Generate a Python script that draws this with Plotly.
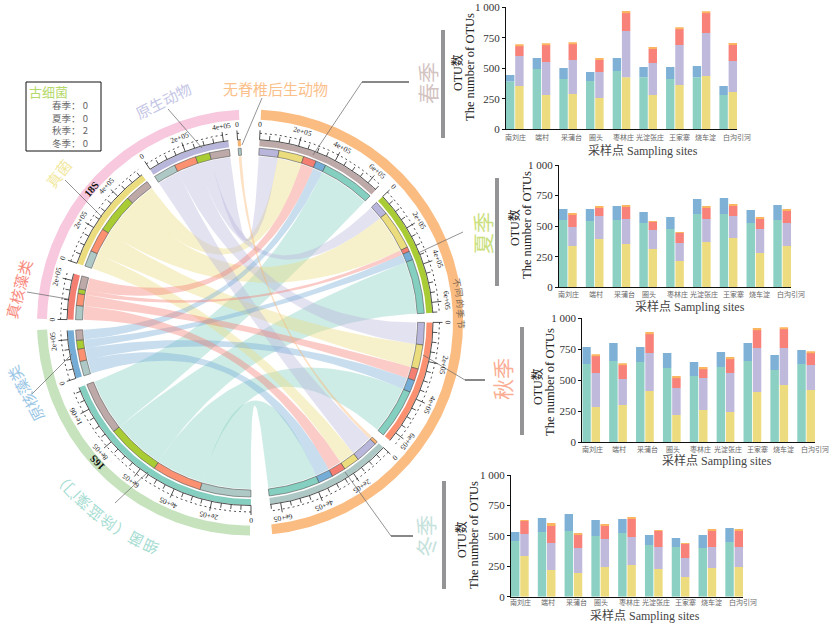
import numpy as np
import plotly.graph_objects as go

# ---------- data ----------
SEASONS = ["春季", "夏季", "秋季", "冬季"]
TAXA = ["细菌", "原核藻类", "真核藻类", "真菌", "原生动物", "无脊椎后生动物"]
SPRING_READS = [287000, 55000, 70000, 135000, 106000, 0]
SUMMER_READS = [292000, 47000, 25000, 212000, 77000, 0]
AUTUMN_READS = [268000, 66000, 64000, 130000, 120000, 0]
WINTER_READS = [274000, 79000, 76000, 87000, 122000, 16000]

SITES = ["南刘庄", "端村", "采蒲台", "圈头", "枣林庄", "光淀张庄", "王家寨", "烧车淀", "白沟引河"]
# cumulative stack tops
S1_BACT = [391, 495, 413, 396, 478, 426, 413, 426, 281]
S1_CYAN = [445, 585, 503, 470, 585, 511, 511, 519, 355]
S1_FUNG = [355, 281, 290, 257, 426, 281, 363, 437, 306]
S1_PROT = [601, 552, 568, 470, 806, 544, 691, 790, 560]
S1_EUKA = [683, 691, 699, 568, 956, 658, 822, 956, 691]
S1_INVE = [691, 699, 708, 585, 970, 675, 831, 962, 708]

S2_BACT = [550, 542, 550, 526, 477, 600, 600, 526, 550]
S2_CYAN = [640, 640, 665, 616, 575, 722, 730, 632, 673]
S2_FUNG = [338, 395, 354, 313, 215, 371, 403, 281, 338]
S2_PROT = [493, 583, 559, 469, 362, 559, 583, 477, 526]
S2_EUKA = [599, 649, 657, 534, 444, 649, 665, 559, 632]
S2_INVE = [608, 657, 665, 542, 452, 657, 681, 567, 640]

S3_BACT = [631, 655, 647, 598, 534, 606, 655, 582, 631]
S3_CYAN = [768, 800, 768, 720, 647, 728, 800, 704, 744]
S3_FUNG = [283, 299, 412, 218, 259, 243, 404, 461, 420]
S3_PROT = [558, 509, 720, 437, 518, 558, 760, 760, 623]
S3_EUKA = [698, 623, 873, 518, 590, 671, 906, 914, 720]
S3_INVE = [706, 631, 889, 534, 606, 687, 922, 922, 728]

S4_BACT = [458, 532, 540, 499, 523, 425, 408, 400, 449]
S4_CYAN = [532, 647, 679, 630, 638, 507, 482, 507, 564]
S4_FUNG = [334, 219, 195, 244, 260, 227, 162, 236, 244]
S4_PROT = [515, 441, 400, 474, 490, 408, 318, 408, 408]
S4_EUKA = [622, 589, 515, 589, 638, 540, 433, 548, 540]
S4_INVE = [630, 605, 523, 597, 655, 548, 441, 556, 556]

ARCHAEA_LINES = ["春季： 0", "夏季： 0", "秋季： 2", "冬季： 0"]

# ---------- style / layout ----------
W, H = 838, 625
CX, CY = 250.0, 322.5
DEG_PER_READ = 6.2 / 1e5
START_ANGLE = 3.0
GAPS_AFTER = {"春季": 3.0, "夏季": 3.0, "秋季": 3.0, "冬季": 6.0, "细菌": 3.0,
              "原核藻类": 3.4, "真核藻类": 3.4, "真菌": 3.0, "原生动物": 2.9, "无脊椎后生动物": 0}
SEASON_COL = {"春季": "#BDA9A8", "夏季": "#A9CC35", "秋季": "#FB9170", "冬季": "#AEC9C5"}
TAXA_COL = {"细菌": "#85CFC0", "原核藻类": "#75ADD6", "真核藻类": "#F47E72",
            "真菌": "#EBDD7D", "原生动物": "#B9B6DB", "无脊椎后生动物": "#F9B36E"}
SERIF = "Liberation Serif, Noto Sans CJK SC, serif"
CJK = "Noto Sans CJK SC, Liberation Serif"
SITE_LABEL_SHIFT = [1, 1, 3, 1, 2, 2, 5, 4, 9]


def rgba(h, a):
    return "rgba(%d,%d,%d,%.3f)" % (int(h[1:3], 16), int(h[3:5], 16), int(h[5:7], 16), a)


def pol(theta, r):
    t = np.radians(theta)
    return CX + r * np.sin(t), CY - r * np.cos(t)


def arc(t0, t1, r, n=None):
    n = n or max(3, int(abs(t1 - t0) * 2) + 2)
    return pol(np.linspace(t0, t1, n), r)


def band(t0, t1, r0, r1):
    x0, y0 = arc(t0, t1, r1)
    x1, y1 = arc(t1, t0, r0)
    return list(x0) + list(x1) + [x0[0]], list(y0) + list(y1) + [y0[0]]


def bez(a, b, r):
    s = np.linspace(0, 1, 50)
    xa, ya = pol(a, r)
    xb, yb = pol(b, r)
    return (1 - s) ** 2 * xa + 2 * s * (1 - s) * CX + s ** 2 * xb, (1 - s) ** 2 * ya + 2 * s * (1 - s) * CY + s ** 2 * yb


MATRIX = np.array([SPRING_READS, SUMMER_READS, AUTUMN_READS, WINTER_READS], dtype=float)
season_tot = dict(zip(SEASONS, MATRIX.sum(axis=1)))
taxa_tot = dict(zip(TAXA, MATRIX.sum(axis=0)))
sector_size = {**season_tot, **taxa_tot}

order = SEASONS + TAXA
sec_start = {}
ang = START_ANGLE
for name in order:
    sec_start[name] = ang
    ang += sector_size[name] * DEG_PER_READ + GAPS_AFTER[name]

season_pos = {}
for i, s in enumerate(SEASONS):
    a = sec_start[s]
    for j in [5, 4, 3, 2, 1, 0]:
        w = MATRIX[i, j] * DEG_PER_READ
        season_pos[(i, j)] = (a, a + w)
        a += w
taxa_pos = {}
for j, t in enumerate(TAXA):
    a = sec_start[t]
    for i in [3, 2, 1, 0]:
        w = MATRIX[i, j] * DEG_PER_READ
        taxa_pos[(i, j)] = (a, a + w)
        a += w

fig = go.Figure()
SK = dict(hoverinfo="skip", showlegend=False)
R_LINK, R_T2 = 166.5, (167.5, 174.5)
R_T1 = (176.5, 182.5)

# ribbons
for j in [0, 3, 4, 1, 2, 5]:
    for i in range(4):
        if MATRIX[i, j] == 0:
            continue
        a1, a2 = season_pos[(i, j)]
        b1, b2 = taxa_pos[(i, j)]
        x1, y1 = arc(a1, a2, R_LINK)
        x2, y2 = bez(a2, b1, R_LINK)
        x3, y3 = arc(b1, b2, R_LINK)
        x4, y4 = bez(b2, a1, R_LINK)
        xs = np.concatenate([x1, x2, x3, x4])
        ys = np.concatenate([y1, y2, y3, y4])
        fig.add_trace(go.Scatter(x=xs, y=ys, mode="lines", fill="toself",
                                 fillcolor=rgba(TAXA_COL[TAXA[j]], 0.40), line=dict(width=0), **SK))


def fill_band(t0, t1, r0, r1, col, outline=None):
    x, y = band(t0, t1, r0, r1)
    fig.add_trace(go.Scatter(x=x, y=y, mode="lines", fill="toself", fillcolor=col,
                             line=dict(width=0.6 if outline else 0, color=outline or col), **SK))


# inner track
for (i, j), (a, b) in season_pos.items():
    if MATRIX[i, j] > 0:
        fill_band(a, b, *R_T2, TAXA_COL[TAXA[j]], "#555555")
for (i, j), (a, b) in taxa_pos.items():
    if MATRIX[i, j] > 0:
        fill_band(a, b, *R_T2, SEASON_COL[SEASONS[i]], "#555555")

annos = []
tx, ty, mx, my = [], [], [], []
for name in order:
    s0 = sec_start[name]
    size = sector_size[name]
    s1 = s0 + size * DEG_PER_READ
    col = SEASON_COL.get(name) or TAXA_COL[name]
    fill_band(s0, s1, *R_T1, col)
    x, y = arc(s0, s1, 183)
    tx += list(x) + [None]
    ty += list(y) + [None]
    v = 0
    while v <= size:
        th = s0 + v * DEG_PER_READ
        major = v % 200000 == 0
        xx, yy = pol(np.array([th, th]), np.array([183, 192.5 if major else 187.5]))
        tx += list(xx) + [None]
        ty += list(yy) + [None]
        if major:
            lab = "0" if v == 0 else ("1e+06" if v == 1000000 else "%de+05" % (v // 100000))
            lx, ly = pol(th, 198)
            annos.append(dict(x=float(lx), y=float(ly), text=lab, showarrow=False, textangle=float(th),
                              font=dict(size=7.5, family=SERIF, color="#222")))
        v += 50000
    x, y = arc(s0, s1, 189.5)
    mx += list(x) + [None]
    my += list(y) + [None]

fig.add_trace(go.Scatter(x=tx, y=ty, mode="lines", line=dict(color="#222", width=0.8), **SK))
fig.add_trace(go.Scatter(x=mx, y=my, mode="lines", line=dict(color="#222", width=0.8, dash="2px 3px"), **SK))

OUTER_RINGS = [(3, 174, "#FBBC82"), (180, 268, "#C6E3BE"), (271, 357, "#F7C8DE")]
for a, b, c in OUTER_RINGS:
    fill_band(a, b, 203, 213, c)


def label(x, y, text, size, color, angle=0, family=CJK, **kw):
    annos.append(dict(x=x, y=y, text=text, showarrow=False, textangle=angle,
                      font=dict(size=size, color=color, family=family), **kw))


label(275, 88, "无脊椎后生动物", 15, "#FBC08A")
label(163, 100, "原生动物", 15, "#C5C6E6", -27)
label(58, 173, "真菌", 15, "#F1E89F", -52)
label(18, 289, "真核藻类", 15, "#F98B7F", -75)
label(25, 394, "原核藻类", 15, "#9CC7E6", -118)
label(91, 189, "18S", 10.5, "#111", -50, SERIF)
annos[-1]["font"]["weight"] = 700
label(97, 463, "16S", 10.5, "#111", 227, SERIF)
annos[-1]["font"]["weight"] = 700
for k, ch in enumerate("细菌（除蓝藻门）"):
    th = 204 + 3.75 * k
    lx, ly = pol(th, 246)
    label(float(lx), float(ly), ch, 15, "#A6DDD2", th)
for k, ch in enumerate("不同的季节"):
    th = 79 + 2.9 * k
    lx, ly = pol(th, 211)
    label(float(lx), float(ly), ch, 9, "#7D6A55", th)

label(427, 83, "春季", 21, "#D3C3C1", -90)
label(482, 233, "夏季", 21, "#CBE07E", -90)
label(502, 379, "秋季", 21, "#FBAE95", -90)
label(425, 536, "冬季", 21, "#C6E2DC", -90)

label(48, 91, "古细菌", 13, "#B5D96B")
for k, t in enumerate(ARCHAEA_LINES):
    label(70, 105 + 12.6 * k, t, 9.5, "#666666")

shapes = [dict(type="rect", xref="x", yref="y", x0=26, y0=82, x1=101, y1=151, line=dict(color="#111", width=1))]
GRAY_LINES = [(362, 82, 313, 155), (463, 232, 418, 253), (465, 380, 423, 355), (391, 536, 345, 472),
              (262, 98, 242, 145), (168, 109, 202, 148), (65, 180, 102, 217), (27, 292, 68, 299),
              (32, 394, 72, 354), (115, 503, 148, 472)]
BLACK_LINES = [(362, 82, 409, 82), (465, 380, 485, 380), (391, 536, 413, 536)]
for a, b, c, d in GRAY_LINES:
    shapes.append(dict(type="line", xref="x", yref="y", x0=a, y0=b, x1=c, y1=d, line=dict(color="#666", width=0.7)))
for a, b, c, d in BLACK_LINES:
    shapes.append(dict(type="line", xref="x", yref="y", x0=a, y0=b, x1=c, y1=d, line=dict(color="#111", width=1)))
GRAY_BARS = [(441, 30, 445, 138), (495, 178, 499, 286), (520, 327, 524, 435), (442, 481, 446, 589)]
for a, b, c, d in GRAY_BARS:
    shapes.append(dict(type="rect", xref="x", yref="y", x0=a, y0=b, x1=c, y1=d, line=dict(width=0), fillcolor="#949496"))

# ---------- bar panels ----------
BAR_COL = dict(bact="#8BD0C2", cyan="#7FB1D6", fung="#EDDC7F", prot="#BFB9DC", euka="#F8817A", inve="#FBB45F")
PANELS = [
    (dict(bact=S1_BACT, cyan=S1_CYAN, fung=S1_FUNG, prot=S1_PROT, euka=S1_EUKA, inve=S1_INVE),
     (506, 737, 129.3, 7.3), (643, 150.5), (457, 73), (470, 67), 8),
    (dict(bact=S2_BACT, cyan=S2_CYAN, fung=S2_FUNG, prot=S2_PROT, euka=S2_EUKA, inve=S2_INVE),
     (559, 791, 287.3, 165), (690, 306), (514, 228), (527, 225), 6.7),
    (dict(bact=S3_BACT, cyan=S3_CYAN, fung=S3_FUNG, prot=S3_PROT, euka=S3_EUKA, inve=S3_INVE),
     (582.3, 815, 442, 318.3), (717, 460.5), (537, 387), (550, 382), 7),
    (dict(bact=S4_BACT, cyan=S4_CYAN, fung=S4_FUNG, prot=S4_PROT, euka=S4_EUKA, inve=S4_INVE),
     (511, 743, 596.7, 475), (645, 615.5), (461, 540), (474, 535), 5.6),
]
BAR_W, OFF_A, OFF_B = 0.315, -0.33, 0.015
layout_axes = {}
for p, (d, (l, r, y0, y1), xt, yt1, yt2, dy) in enumerate(PANELS, start=2):
    xa, ya = "x%d" % p, "y%d" % p
    for keys, off in ((["bact", "cyan"], OFF_A), (["fung", "prot", "euka", "inve"], OFF_B)):
        base = np.zeros(9)
        for k in keys:
            top = np.array(d[k], dtype=float)
            fig.add_trace(go.Bar(x=SITES, y=top - base, base=base, width=BAR_W, offset=off,
                                 marker=dict(color=BAR_COL[k], line=dict(width=0)),
                                 xaxis=xa, yaxis=ya, **SK))
            base = top
    layout_axes["xaxis%d" % p] = dict(domain=[l / W, r / W], anchor=ya, range=[-0.33, 8.33], type="category",
                                      showticklabels=False, automargin=False,
                                      showline=True, linecolor="#111", linewidth=1.2, ticks="", showgrid=False,
                                      zeroline=False)
    layout_axes["yaxis%d" % p] = dict(domain=[1 - y0 / H, 1 - y1 / H], anchor=xa, range=[0, 1000], automargin=False,
                                      tickmode="array", tickvals=[0, 250, 500, 750, 1000],
                                      ticktext=["0", "250", "500", "750", "1 000"],
                                      showline=True, linecolor="#111", linewidth=1.2, ticks="outside", ticklen=3,
                                      tickcolor="#111", showgrid=False, zeroline=False,
                                      tickfont=dict(size=11, color="#333", family=SERIF))
    step = (r - l) / 8.66
    for k, site in enumerate(SITES):
        label(l + step * (0.33 + k) + SITE_LABEL_SHIFT[k], y0 + dy, site, 7, "#666", 0, CJK)
    label(xt[0], xt[1], "采样点 Sampling sites", 12, "#444", 0, SERIF)
    label(yt1[0], yt1[1], "OTU数", 12, "#222", -90, SERIF)
    label(yt2[0], yt2[1], "The number of OTUs", 12.5, "#222", -90, SERIF)

for a in annos:
    a.setdefault("xref", "x")
    a.setdefault("yref", "y")

fig.update_layout(
    width=W, height=H, margin=dict(l=0, r=0, t=0, b=0, pad=0), paper_bgcolor="white", plot_bgcolor="rgba(0,0,0,0)",
    showlegend=False, barmode="overlay", shapes=shapes, annotations=annos,
    xaxis=dict(domain=[0, 1], range=[0, W], visible=False, fixedrange=True, automargin=False),
    yaxis=dict(domain=[0, 1], range=[H, 0], visible=False, fixedrange=True, automargin=False),
    **layout_axes,
)
fig.write_html("out.html", config=dict(displayModeBar=False), post_script="document.body.style.margin='0';")
